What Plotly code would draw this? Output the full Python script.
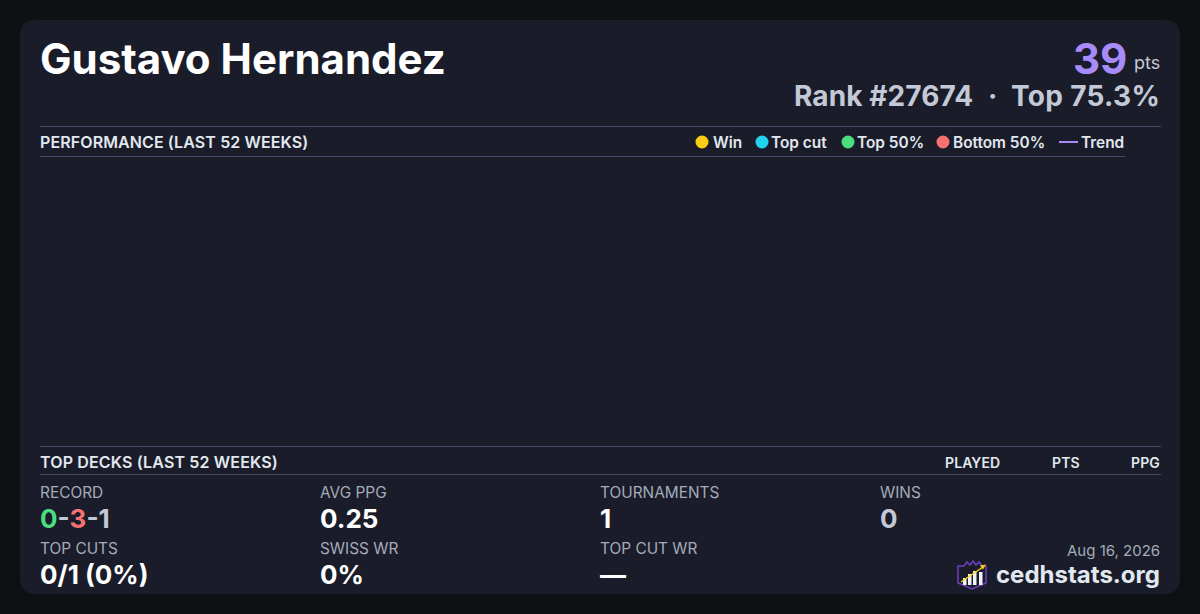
#!/usr/bin/env python3

import plotly.graph_objects as go

player = "Gustavo Hernandez"
points = "39"
rank_text = "Rank #27674"
top_text = "Top 75.3%"
perf_title = "PERFORMANCE (LAST 52 WEEKS)"
decks_title = "TOP DECKS (LAST 52 WEEKS)"
deck_columns = ["PLAYED", "PTS", "PPG"]
legend_labels = ["Win", "Top cut", "Top 50%", "Bottom 50%"]
legend_colors = ["#facc15", "#22d3ee", "#4ade80", "#f87171"]
stat_labels = ["RECORD", "AVG PPG", "TOURNAMENTS", "WINS",
               "TOP CUTS", "SWISS WR", "TOP CUT WR"]
stat_values = ["0-3-1", "0.25", "1", "0", "0/1 (0%)", "0%", "—"]
date_text = "Aug 16, 2026"
site_text = "cedhstats.org"

FONT = "Inter"
PAGE = "#0f1014"
CARD = "#1a1d29"
RULE = "#3f4b66"
PURPLE = "#a78bfa"
WHITE = "#ffffff"
SOFT = "#e2e8f0"
GREY = "#c3c9d6"
MUTED = "#a4abba"

fig = go.Figure()


def text(x, y, s, size, color, anchor="left", weight=400, spacing=0):
    if spacing:
        s = f'<span style="letter-spacing:{spacing}px">{s}</span>'
    fig.add_annotation(x=x, y=y, xref="x", yref="y", text=s, showarrow=False,
                       xanchor=anchor, yanchor="middle", align=anchor,
                       borderpad=0, borderwidth=0,
                       font=dict(family=FONT, size=size, color=color, weight=weight))


def rule(x0, x1, y):
    fig.add_shape(type="line", x0=x0, x1=x1, y0=y, y1=y,
                  line=dict(color=RULE, width=1))


def path(d, fill=None, line=None, width=1):
    fig.add_shape(type="path", path=d, fillcolor=fill, layer="above",
                  line=dict(color=line, width=width if line else 0))


# card
path("M36,20 H1164 Q1180,20 1180,36 V578 Q1180,594 1164,594 H36 Q20,594 20,578 V36 Q20,20 36,20 Z",
     fill=CARD)

# header
text(40, 58.5, player, 42, WHITE, weight=700)
text(1127, 58, points, 42, PURPLE, "right", 700)
text(1160, 62, "pts", 18, GREY, "right")
text(973, 96, rank_text, 28, GREY, "right", 700, spacing=0.1)
text(992, 96, "·", 28, GREY, "center", 700)
text(1159.5, 96, top_text, 28, GREY, "right", 700, spacing=0.3)

# section rules
rule(40, 1161, 126.5)
rule(40, 1125, 156.5)
rule(40, 1161, 446.5)
rule(40, 1161, 474.5)

text(40, 142, perf_title, 16, SOFT, weight=600, spacing=0.1)
text(40, 462, decks_title, 16, SOFT, weight=600, spacing=0.15)

# legend
swatch_x = [702, 762, 848, 943]
label_x = [713, 771, 857, 953]
for sx, lx, lab, col in zip(swatch_x, label_x, legend_labels, legend_colors):
    fig.add_shape(type="circle", x0=sx - 6.5, x1=sx + 6.5, y0=135.5, y1=148.5,
                  fillcolor=col, line=dict(width=0))
    text(lx, 142, lab, 15.4, SOFT, weight=600)
fig.add_shape(type="line", x0=1059, x1=1078, y0=142, y1=142,
              line=dict(color=PURPLE, width=2))
text(1081, 142, "Trend", 15.4, SOFT, weight=600)

# deck table header
for rx, col in zip([1000, 1080, 1160], deck_columns):
    text(rx, 462, col, 14, SOFT, "right", 600, spacing=0.1)

# stats
record = ('<span style="color:#4ade80">0</span><span style="color:#c3c9d6">-</span>'
          '<span style="color:#f87171">3</span><span style="color:#c3c9d6">-1</span>')
stat_x = [40, 320, 600, 880, 40, 320, 600]
label_y = [492, 492, 492, 492, 548, 548, 548]
value_y = [518, 518, 518, 518, 574, 574, 574]
for i, lab in enumerate(stat_labels):
    text(stat_x[i], label_y[i], lab, 15.4, MUTED)
    val = record if i == 0 else stat_values[i]
    text(stat_x[i], value_y[i], val, 26, GREY if i == 3 else WHITE, weight=700)

# footer
text(1160, 550, date_text, 15, MUTED, "right")
text(1160, 574, site_text, 24, SOFT, "right", 700)

# logo
path("M958,566 L964,566 L967,562 L970,565 L973,561 L976,565 L979,562 L982,566 L986,566 "
     "V583 L972,589 L958,583 Z", fill="#1a1d29", line="#6d3fc4", width=1.5)
for bx, top in zip([963, 968, 973, 979], [578, 574, 571, 572]):
    fig.add_shape(type="rect", x0=bx, x1=bx + 3.5, y0=top, y1=585,
                  fillcolor="#f1f5f9", line=dict(width=0), layer="above")
fig.add_shape(type="line", x0=961, x1=983, y0=582, y1=567,
              line=dict(color="#facc15", width=1.5), layer="above")
path("M986,564.5 L980,565.5 L983,569.5 Z", fill="#facc15")

fig.update_xaxes(range=[0, 1200], visible=False, fixedrange=True)
fig.update_yaxes(range=[614, 0], visible=False, fixedrange=True)
fig.update_layout(width=1200, height=614, margin=dict(l=0, r=0, t=0, b=0),
                  paper_bgcolor=PAGE, plot_bgcolor=PAGE, showlegend=False,
                  font=dict(family=FONT))

# drop the browser's default page margin so the card lines up
fig.write_html("out.html", config=dict(displayModeBar=False),
               post_script="document.body.style.margin='0';document.body.style.background='#0f1014';")
